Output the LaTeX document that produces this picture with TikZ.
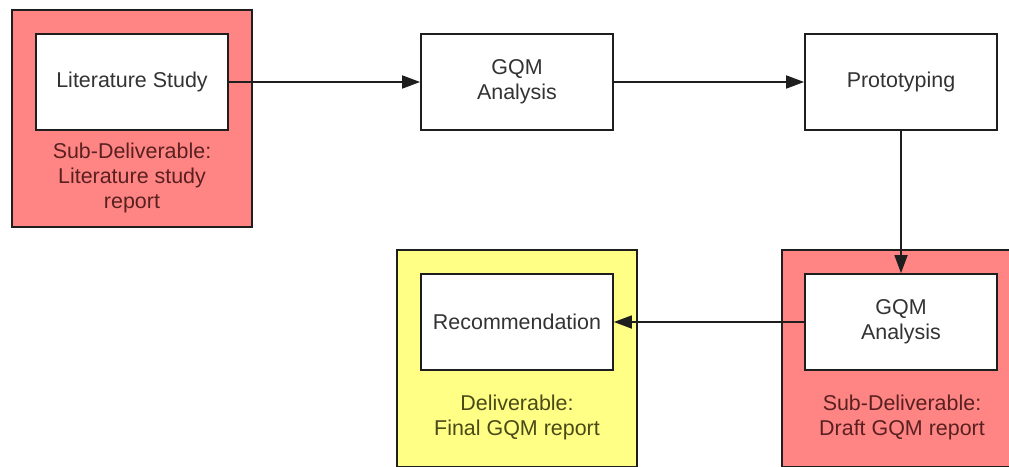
\documentclass[tikz,border=0pt]{standalone}
\usepackage{fontspec}
\setmainfont{Liberation Sans}
\usetikzlibrary{arrows.meta}
\definecolor{subred}{HTML}{FF8585}
\definecolor{finalyellow}{HTML}{FFFF85}
\definecolor{subtext}{HTML}{5A2020}
\definecolor{finaltext}{HTML}{4A4A18}
\definecolor{edge}{HTML}{1E1E1E}
\definecolor{tasktext}{HTML}{333333}

\begin{document}
\begin{tikzpicture}[
    font=\fontsize{12.2pt}{14.2pt}\selectfont,
    task/.style={draw=edge, line width=1pt, fill=white, text=tasktext, align=center,
        minimum width=3.84cm, minimum height=1.92cm, inner sep=0pt},
    group/.style={draw=edge, line width=1pt, minimum width=4.8cm, minimum height=4.34cm, inner sep=0pt},
    grouplabel/.style={align=center, inner sep=0pt},
    flow/.style={-{Triangle[length=3.6mm,width=2.6mm]}, line width=1pt, draw=edge}
]
    % Fix the page to the size of the picture
    \clip (0,0) rectangle (20.18,-9.32);
    \useasboundingbox (0,0) rectangle (20.18,-9.32);

    % Draw the sub-deliverable around the literature study
    \node[group, fill=subred] (litgroup) at (2.64,-2.37) {};
    \node[task] (lit) at (2.64,-1.64) {Literature Study};
    \node[grouplabel, text=subtext] (litlabel) at (2.64,-3.56) {Sub-Deliverable:\\Literature study\\report};

    % Draw the analysis and prototyping steps
    \node[task] (gqm) at (10.34,-1.64) {GQM\\Analysis};
    \node[task] (proto) at (18.02,-1.64) {Prototyping};

    % Draw the final deliverable around the recommendation
    \node[group, fill=finalyellow] (finalgroup) at (10.34,-7.17) {};
    \node[task] (rec) at (10.34,-6.44) {Recommendation};
    \node[grouplabel, text=finaltext] (finallabel) at (10.34,-8.34) {Deliverable:\\Final GQM report};

    % Draw the sub-deliverable around the draft analysis
    \node[group, fill=subred] (draftgroup) at (18.04,-7.17) {};
    \node[task] (draft) at (18.02,-6.44) {GQM\\Analysis};
    \node[grouplabel, text=subtext] (draftlabel) at (18.04,-8.34) {Sub-Deliverable:\\Draft GQM report};

    % Connect the steps
    \draw[flow] (lit.east) -- (gqm.west);
    \draw[flow] (gqm.east) -- (proto.west);
    \draw[flow] (proto.south) -- (draft.north);
    \draw[flow] (draft.west) -- (rec.east);

\end{tikzpicture}
\end{document}
